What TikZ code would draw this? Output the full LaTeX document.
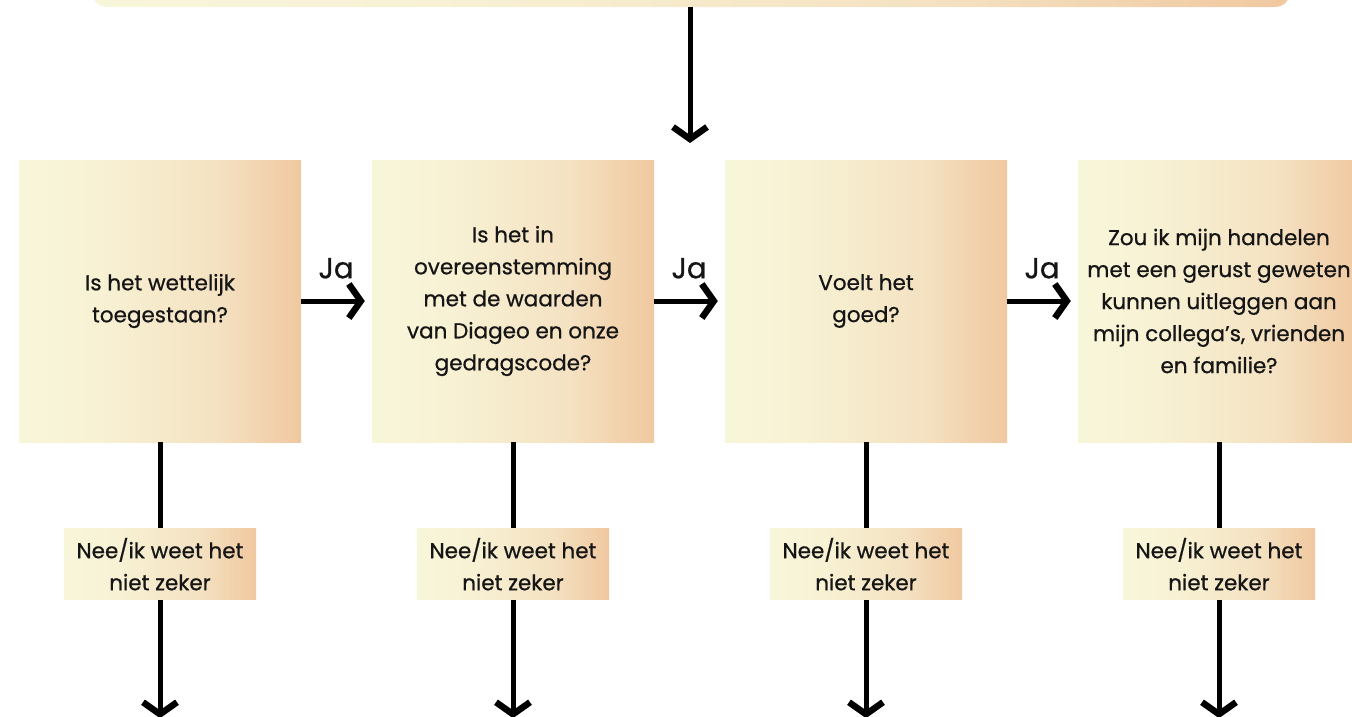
\documentclass[tikz,border=0pt]{standalone}
\usepackage{fontspec}
\setmainfont{Poppins}[FakeBold=0.7]
\usetikzlibrary{arrows.meta}
\definecolor{pale}{HTML}{F8F6D9}
\definecolor{pale2}{HTML}{F8F2D5}
\definecolor{mid}{HTML}{F4E2C2}
\definecolor{peach}{HTML}{F0C8A0}
\definecolor{ink}{HTML}{151515}
\pgfdeclarehorizontalshading{boxshade}{100bp}{color(0bp)=(pale); color(25bp)=(pale); color(38bp)=(pale2); color(60bp)=(mid); color(75bp)=(peach); color(100bp)=(peach)}
\tikzset{
  qbox/.style={shading=boxshade, minimum width=282pt, minimum height=282pt, inner sep=0pt, align=center, text=ink, font=\fontsize{21.5}{32}\selectfont},
  lbox/.style={shading=boxshade, minimum width=192pt, minimum height=71pt, inner sep=0pt, align=center, text=ink, font=\fontsize{21.5}{32}\selectfont},
  topbox/.style={shading=boxshade, minimum width=1198pt, minimum height=40pt, rounded corners=15pt, inner sep=0pt},
  arr/.style={line width=5pt, draw=black, -{Straight Barb[length=12pt,width=34pt,line width=6.5pt]}},
  jalab/.style={text=ink, font=\fontsize{29}{32}\selectfont, inner sep=0pt}
}
\begin{document}
\begin{tikzpicture}[x=1pt,y=-1pt]
\useasboundingbox (0,0) rectangle (1352,716);
\clip (0,0) rectangle (1352,716);
\node[topbox] (top) at (691,-13) {};
\node[qbox] (b1) at (160,301) {Is het wettelijk\\toegestaan?};
\node[qbox] (b2) at (513,301) {Is het in\\overeenstemming\\met de waarden\\van Diageo en onze\\gedragscode?};
\node[qbox] (b3) at (866,301) {Voelt het\\goed?};
\node[qbox] (b4) at (1219,301) {Zou ik mijn handelen\\met een gerust geweten\\kunnen uitleggen aan\\mijn collega’s, vrienden\\en familie?};
\coordinate (t1) at (690,143);
\draw[arr] (top.south -| t1) -- (t1);
\draw[arr] (b1.east) -- node[jalab, above=20pt, xshift=3pt]{Ja} ([xshift=-7pt]b2.west);
\draw[arr] (b2.east) -- node[jalab, above=20pt, xshift=3pt]{Ja} ([xshift=-7pt]b3.west);
\draw[arr] (b3.east) -- node[jalab, above=20pt, xshift=3pt]{Ja} ([xshift=-7pt]b4.west);
\foreach \i in {1,2,3,4}{
  \coordinate (e\i) at ([yshift=-276pt]b\i.south);
  \draw[arr] (b\i.south) -- (e\i);
  \node[lbox] (l\i) at ([yshift=-122pt]b\i.south) {Nee/ik weet het\\niet zeker};
}
\end{tikzpicture}
\end{document}
